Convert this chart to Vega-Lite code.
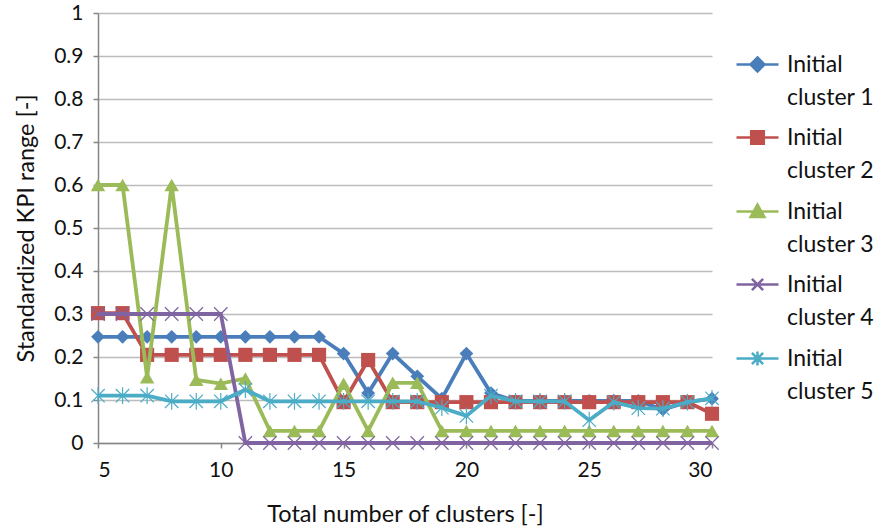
{
  "$schema": "https://vega.github.io/schema/vega-lite/v6.json",
  "width": 614,
  "height": 430,
  "autosize": {"type": "none"},
  "padding": {"left": 98, "top": 13, "right": 166, "bottom": 88},
  "background": "white",
  "config": {
    "view": {"stroke": null},
    "font": "Lato",
    "axis": {
      "labelFont": "Lato",
      "titleFont": "Lato",
      "labelFontSize": 21,
      "titleFontSize": 23.5,
      "labelColor": "#111111",
      "titleColor": "#111111",
      "titleFontWeight": "normal",
      "domainColor": "#868686",
      "domainWidth": 1.5,
      "tickColor": "#868686",
      "tickWidth": 1.5,
      "tickSize": 5
    }
  },
  "data": {
    "values": [
      {"k": 5, "s": "Initial cluster 1", "v": 0.247},
      {"k": 6, "s": "Initial cluster 1", "v": 0.247},
      {"k": 7, "s": "Initial cluster 1", "v": 0.247},
      {"k": 8, "s": "Initial cluster 1", "v": 0.247},
      {"k": 9, "s": "Initial cluster 1", "v": 0.247},
      {"k": 10, "s": "Initial cluster 1", "v": 0.247},
      {"k": 11, "s": "Initial cluster 1", "v": 0.247},
      {"k": 12, "s": "Initial cluster 1", "v": 0.247},
      {"k": 13, "s": "Initial cluster 1", "v": 0.247},
      {"k": 14, "s": "Initial cluster 1", "v": 0.247},
      {"k": 15, "s": "Initial cluster 1", "v": 0.208},
      {"k": 16, "s": "Initial cluster 1", "v": 0.116},
      {"k": 17, "s": "Initial cluster 1", "v": 0.208},
      {"k": 18, "s": "Initial cluster 1", "v": 0.155},
      {"k": 19, "s": "Initial cluster 1", "v": 0.103},
      {"k": 20, "s": "Initial cluster 1", "v": 0.208},
      {"k": 21, "s": "Initial cluster 1", "v": 0.116},
      {"k": 22, "s": "Initial cluster 1", "v": 0.098},
      {"k": 23, "s": "Initial cluster 1", "v": 0.098},
      {"k": 24, "s": "Initial cluster 1", "v": 0.098},
      {"k": 25, "s": "Initial cluster 1", "v": 0.098},
      {"k": 26, "s": "Initial cluster 1", "v": 0.098},
      {"k": 27, "s": "Initial cluster 1", "v": 0.098},
      {"k": 28, "s": "Initial cluster 1", "v": 0.078},
      {"k": 29, "s": "Initial cluster 1", "v": 0.095},
      {"k": 30, "s": "Initial cluster 1", "v": 0.103},

      {"k": 5, "s": "Initial cluster 2", "v": 0.302},
      {"k": 6, "s": "Initial cluster 2", "v": 0.302},
      {"k": 7, "s": "Initial cluster 2", "v": 0.205},
      {"k": 8, "s": "Initial cluster 2", "v": 0.205},
      {"k": 9, "s": "Initial cluster 2", "v": 0.205},
      {"k": 10, "s": "Initial cluster 2", "v": 0.205},
      {"k": 11, "s": "Initial cluster 2", "v": 0.205},
      {"k": 12, "s": "Initial cluster 2", "v": 0.205},
      {"k": 13, "s": "Initial cluster 2", "v": 0.205},
      {"k": 14, "s": "Initial cluster 2", "v": 0.205},
      {"k": 15, "s": "Initial cluster 2", "v": 0.095},
      {"k": 16, "s": "Initial cluster 2", "v": 0.193},
      {"k": 17, "s": "Initial cluster 2", "v": 0.095},
      {"k": 18, "s": "Initial cluster 2", "v": 0.095},
      {"k": 19, "s": "Initial cluster 2", "v": 0.095},
      {"k": 20, "s": "Initial cluster 2", "v": 0.095},
      {"k": 21, "s": "Initial cluster 2", "v": 0.095},
      {"k": 22, "s": "Initial cluster 2", "v": 0.095},
      {"k": 23, "s": "Initial cluster 2", "v": 0.095},
      {"k": 24, "s": "Initial cluster 2", "v": 0.095},
      {"k": 25, "s": "Initial cluster 2", "v": 0.095},
      {"k": 26, "s": "Initial cluster 2", "v": 0.095},
      {"k": 27, "s": "Initial cluster 2", "v": 0.095},
      {"k": 28, "s": "Initial cluster 2", "v": 0.095},
      {"k": 29, "s": "Initial cluster 2", "v": 0.095},
      {"k": 30, "s": "Initial cluster 2", "v": 0.068},

      {"k": 5, "s": "Initial cluster 3", "v": 0.6},
      {"k": 6, "s": "Initial cluster 3", "v": 0.6},
      {"k": 7, "s": "Initial cluster 3", "v": 0.153},
      {"k": 8, "s": "Initial cluster 3", "v": 0.6},
      {"k": 9, "s": "Initial cluster 3", "v": 0.147},
      {"k": 10, "s": "Initial cluster 3", "v": 0.138},
      {"k": 11, "s": "Initial cluster 3", "v": 0.15},
      {"k": 12, "s": "Initial cluster 3", "v": 0.028},
      {"k": 13, "s": "Initial cluster 3", "v": 0.028},
      {"k": 14, "s": "Initial cluster 3", "v": 0.028},
      {"k": 15, "s": "Initial cluster 3", "v": 0.138},
      {"k": 16, "s": "Initial cluster 3", "v": 0.028},
      {"k": 17, "s": "Initial cluster 3", "v": 0.14},
      {"k": 18, "s": "Initial cluster 3", "v": 0.14},
      {"k": 19, "s": "Initial cluster 3", "v": 0.028},
      {"k": 20, "s": "Initial cluster 3", "v": 0.028},
      {"k": 21, "s": "Initial cluster 3", "v": 0.028},
      {"k": 22, "s": "Initial cluster 3", "v": 0.028},
      {"k": 23, "s": "Initial cluster 3", "v": 0.028},
      {"k": 24, "s": "Initial cluster 3", "v": 0.028},
      {"k": 25, "s": "Initial cluster 3", "v": 0.028},
      {"k": 26, "s": "Initial cluster 3", "v": 0.028},
      {"k": 27, "s": "Initial cluster 3", "v": 0.028},
      {"k": 28, "s": "Initial cluster 3", "v": 0.028},
      {"k": 29, "s": "Initial cluster 3", "v": 0.028},
      {"k": 30, "s": "Initial cluster 3", "v": 0.028},

      {"k": 5, "s": "Initial cluster 4", "v": 0.3},
      {"k": 6, "s": "Initial cluster 4", "v": 0.3},
      {"k": 7, "s": "Initial cluster 4", "v": 0.3},
      {"k": 8, "s": "Initial cluster 4", "v": 0.3},
      {"k": 9, "s": "Initial cluster 4", "v": 0.3},
      {"k": 10, "s": "Initial cluster 4", "v": 0.3},
      {"k": 11, "s": "Initial cluster 4", "v": 0},
      {"k": 12, "s": "Initial cluster 4", "v": 0},
      {"k": 13, "s": "Initial cluster 4", "v": 0},
      {"k": 14, "s": "Initial cluster 4", "v": 0},
      {"k": 15, "s": "Initial cluster 4", "v": 0},
      {"k": 16, "s": "Initial cluster 4", "v": 0},
      {"k": 17, "s": "Initial cluster 4", "v": 0},
      {"k": 18, "s": "Initial cluster 4", "v": 0},
      {"k": 19, "s": "Initial cluster 4", "v": 0},
      {"k": 20, "s": "Initial cluster 4", "v": 0},
      {"k": 21, "s": "Initial cluster 4", "v": 0},
      {"k": 22, "s": "Initial cluster 4", "v": 0},
      {"k": 23, "s": "Initial cluster 4", "v": 0},
      {"k": 24, "s": "Initial cluster 4", "v": 0},
      {"k": 25, "s": "Initial cluster 4", "v": 0},
      {"k": 26, "s": "Initial cluster 4", "v": 0},
      {"k": 27, "s": "Initial cluster 4", "v": 0},
      {"k": 28, "s": "Initial cluster 4", "v": 0},
      {"k": 29, "s": "Initial cluster 4", "v": 0},
      {"k": 30, "s": "Initial cluster 4", "v": 0},

      {"k": 5, "s": "Initial cluster 5", "v": 0.11},
      {"k": 6, "s": "Initial cluster 5", "v": 0.11},
      {"k": 7, "s": "Initial cluster 5", "v": 0.11},
      {"k": 8, "s": "Initial cluster 5", "v": 0.097},
      {"k": 9, "s": "Initial cluster 5", "v": 0.097},
      {"k": 10, "s": "Initial cluster 5", "v": 0.097},
      {"k": 11, "s": "Initial cluster 5", "v": 0.124},
      {"k": 12, "s": "Initial cluster 5", "v": 0.097},
      {"k": 13, "s": "Initial cluster 5", "v": 0.097},
      {"k": 14, "s": "Initial cluster 5", "v": 0.097},
      {"k": 15, "s": "Initial cluster 5", "v": 0.097},
      {"k": 16, "s": "Initial cluster 5", "v": 0.097},
      {"k": 17, "s": "Initial cluster 5", "v": 0.097},
      {"k": 18, "s": "Initial cluster 5", "v": 0.097},
      {"k": 19, "s": "Initial cluster 5", "v": 0.082},
      {"k": 20, "s": "Initial cluster 5", "v": 0.063},
      {"k": 21, "s": "Initial cluster 5", "v": 0.11},
      {"k": 22, "s": "Initial cluster 5", "v": 0.097},
      {"k": 23, "s": "Initial cluster 5", "v": 0.097},
      {"k": 24, "s": "Initial cluster 5", "v": 0.097},
      {"k": 25, "s": "Initial cluster 5", "v": 0.053},
      {"k": 26, "s": "Initial cluster 5", "v": 0.095},
      {"k": 27, "s": "Initial cluster 5", "v": 0.081},
      {"k": 28, "s": "Initial cluster 5", "v": 0.08},
      {"k": 29, "s": "Initial cluster 5", "v": 0.095},
      {"k": 30, "s": "Initial cluster 5", "v": 0.104}
    ]
  },
  "encoding": {
    "x": {
      "field": "k",
      "type": "quantitative",
      "scale": {"domain": [5, 30], "nice": false, "zero": false},
      "axis": {
        "values": [5, 10, 15, 20, 25, 30],
        "grid": false,
        "labelPadding": 11,
        "title": "Total number of clusters [-]",
        "titlePadding": 22
      }
    },
    "y": {
      "field": "v",
      "type": "quantitative",
      "scale": {"domain": [0, 1], "nice": false},
      "axis": {
        "values": [0, 0.1, 0.2, 0.3, 0.4, 0.5, 0.6, 0.7, 0.8, 0.9, 1],
        "format": "~g",
        "grid": true,
        "gridColor": "#bcbcbc",
        "gridWidth": 1.5,
        "labelPadding": 10,
        "title": "Standardized KPI range [-]",
        "titlePadding": 15
      }
    },
    "color": {
      "field": "s",
      "type": "nominal",
      "scale": {
        "domain": ["Initial cluster 1", "Initial cluster 2", "Initial cluster 3", "Initial cluster 4", "Initial cluster 5"],
        "range": ["#4a7ebb", "#c0504d", "#9bbb59", "#8064a2", "#4bacc6"]
      },
      "legend": {
        "orient": "none",
        "legendX": 648,
        "legendY": 40,
        "title": null,
        "labelFont": "Lato",
        "labelFontSize": 23,
        "labelColor": "#111111",
        "labelOffset": 18,
        "symbolSize": 196,
        "symbolStrokeWidth": 2.5,
        "rowPadding": 16,
        "labelExpr": "['Initial', 'cluster ' + slice(datum.label, -1)]",
        "encode": {
          "symbols": {
            "update": {
              "shape": {"signal": "datum.value === 'Initial cluster 1' ? 'M-3,0L3,0M0,-1L1,0L0,1L-1,0Z' : datum.value === 'Initial cluster 2' ? 'M-3,0L3,0M-0.9,-0.9L0.9,-0.9L0.9,0.9L-0.9,0.9Z' : datum.value === 'Initial cluster 3' ? 'M-3,0L3,0M-1,0.8L0,-1L1,0.8Z' : datum.value === 'Initial cluster 4' ? 'M-3,0L3,0M-0.8,-0.8L0.8,0.8M-0.8,0.8L0.8,-0.8' : 'M-3,0L3,0M-0.8,-0.8L0.8,0.8M-0.8,0.8L0.8,-0.8M0,-1L0,1'"},
              "fill": {"signal": "datum.value === 'Initial cluster 1' ? '#4a7ebb' : datum.value === 'Initial cluster 2' ? '#c0504d' : datum.value === 'Initial cluster 3' ? '#9bbb59' : 'transparent'"},
              "opacity": {"value": 1}
            }
          },
          "labels": {
            "update": {
              "lineHeight": {"value": 33}
            }
          }
        }
      }
    }
  },
  "layer": [
    {
      "transform": [{"filter": "datum.s === 'Initial cluster 1'"}],
      "mark": {"type": "line", "strokeWidth": 3.8, "point": {"shape": "diamond", "filled": true, "size": 190, "opacity": 1}}
    },
    {
      "transform": [{"filter": "datum.s === 'Initial cluster 2'"}],
      "mark": {"type": "line", "strokeWidth": 3.8, "point": {"shape": "square", "filled": true, "size": 200, "opacity": 1}}
    },
    {
      "transform": [{"filter": "datum.s === 'Initial cluster 3'"}],
      "mark": {"type": "line", "strokeWidth": 3.8, "point": {"shape": "triangle-up", "filled": true, "size": 210, "opacity": 1}}
    },
    {
      "transform": [{"filter": "datum.s === 'Initial cluster 4'"}],
      "mark": {"type": "line", "strokeWidth": 3.8, "point": {"shape": "M-1,-1L1,1M-1,1L1,-1", "filled": false, "size": 180, "strokeWidth": 1.2, "opacity": 1}}
    },
    {
      "transform": [{"filter": "datum.s === 'Initial cluster 5'"}],
      "mark": {"type": "line", "strokeWidth": 3.8, "point": {"shape": "M-1,-1L1,1M-1,1L1,-1M0,-1.25L0,1.25", "filled": false, "size": 180, "strokeWidth": 1.2, "opacity": 1}}
    }
  ]
}
